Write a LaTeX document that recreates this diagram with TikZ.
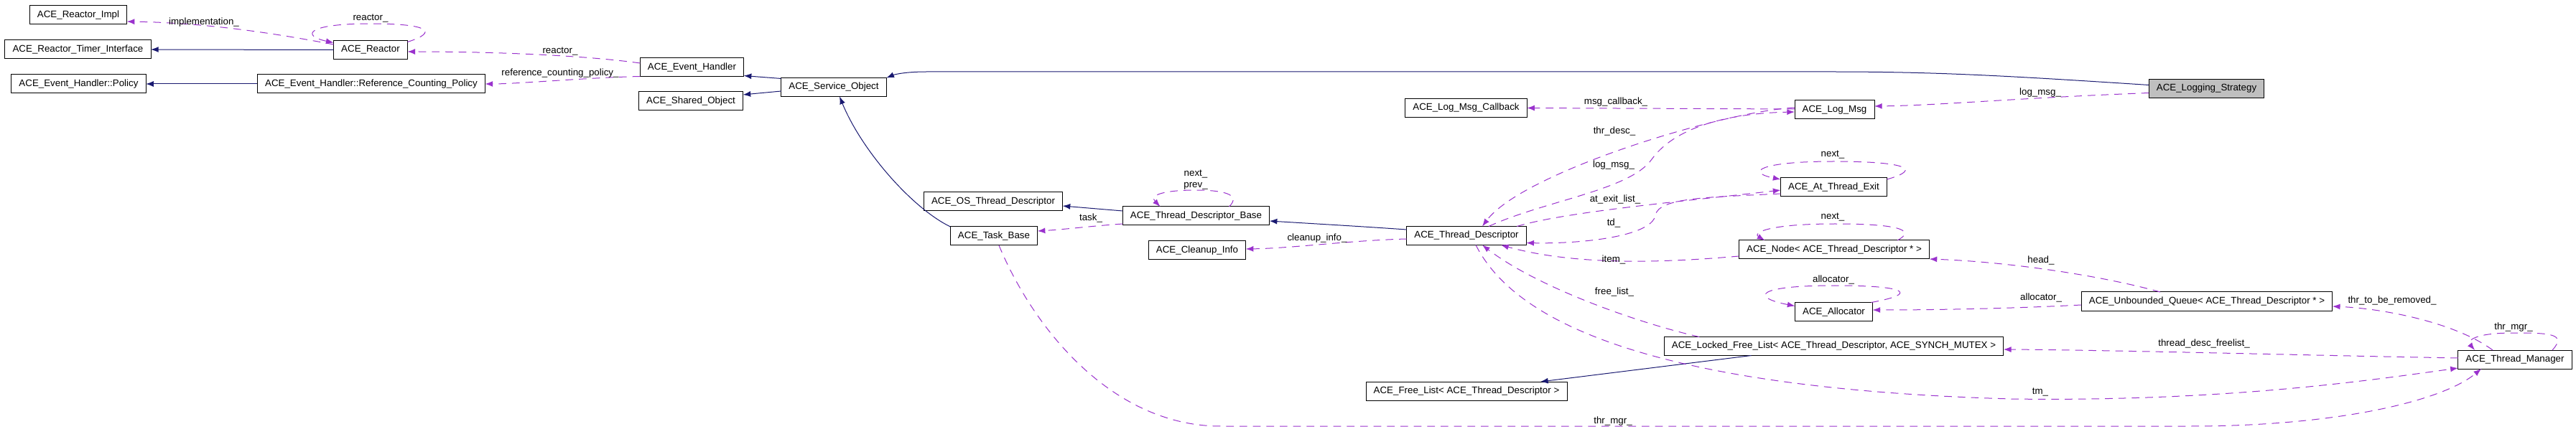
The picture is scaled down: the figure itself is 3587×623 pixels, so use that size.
\documentclass[tikz,border=0pt]{standalone}
\usepackage{fontspec}
\setmainfont{Liberation Sans}
\usetikzlibrary{positioning,calc,arrows.meta}

\definecolor{inhcol}{RGB}{25,25,112}
\definecolor{usecol}{RGB}{154,50,205}

\begin{document}
\begin{tikzpicture}[x=0.75pt,y=-0.75pt,
        every node/.style={font=\fontsize{10}{12}\selectfont},
        classbox/.style={draw,rectangle,fill=white,minimum height=19.5pt,inner xsep=8pt,outer sep=0pt,line width=0.75pt},
        inh/.style={draw=inhcol,line width=0.75pt,-{Latex[length=8pt,width=6pt]}},
        usage/.style={draw=usecol,line width=0.75pt,dash pattern=on 8pt off 6pt,-{Latex[length=8pt,width=6pt]}},
        lbl/.style={inner sep=1pt}]
   \useasboundingbox (0,0) rectangle (3587,623);
   % classes
   \node[classbox] (Impl) at (109,21) {ACE\_Reactor\_Impl};
   \node[classbox] (Timer) at (108.5,69) {ACE\_Reactor\_Timer\_Interface};
   \node[classbox] (Policy) at (109.5,117) {ACE\_Event\_Handler::Policy};
   \node[classbox] (Reactor) at (516,69.5) {ACE\_Reactor};
   \node[classbox] (RCP) at (517,117) {ACE\_Event\_Handler::Reference\_Counting\_Policy};
   \node[classbox] (EH) at (963.5,93.5) {ACE\_Event\_Handler};
   \node[classbox] (ShO) at (962,141) {ACE\_Shared\_Object};
   \node[classbox] (SO) at (1161,121.5) {ACE\_Service\_Object};
   \node[classbox,fill={rgb,255:red,191;green,191;blue,191}] (LS) at (3072.5,123.5) {ACE\_Logging\_Strategy};
   \node[classbox] (CB) at (2041.5,150.5) {ACE\_Log\_Msg\_Callback};
   \node[classbox] (LM) at (2554.5,153) {ACE\_Log\_Msg};
   \node[classbox] (OSTD) at (1383,281) {ACE\_OS\_Thread\_Descriptor};
   \node[classbox] (TDB) at (1665.5,301) {ACE\_Thread\_Descriptor\_Base};
   \node[classbox] (TB) at (1384,329) {ACE\_Task\_Base};
   \node[classbox] (CI) at (1667,349) {ACE\_Cleanup\_Info};
   \node[classbox] (TD) at (2042,328.5) {ACE\_Thread\_Descriptor};
   \node[classbox] (ATE) at (2553.5,261) {ACE\_At\_Thread\_Exit};
   \node[classbox] (Node) at (2554,348) {ACE\_Node< ACE\_Thread\_Descriptor * >};
   \node[classbox] (Alloc) at (2553.5,434.5) {ACE\_Allocator};
   \node[classbox] (UQ) at (3073,420) {ACE\_Unbounded\_Queue< ACE\_Thread\_Descriptor * >};
   \node[classbox] (LFL) at (2553.5,482.5) {ACE\_Locked\_Free\_List< ACE\_Thread\_Descriptor, ACE\_SYNCH\_MUTEX >};
   \node[classbox] (FL) at (2042,545) {ACE\_Free\_List< ACE\_Thread\_Descriptor >};
   \node[classbox] (TM) at (3502,501) {ACE\_Thread\_Manager};

   % inheritance
   \draw[inh] (Reactor.west) -- (Timer.east);
   \draw[inh] (RCP.west) -- (Policy.east);
   \draw[inh] ($(SO.north west)+(0,1)$) -- ($(EH.south east)+(0,-1)$);
   \draw[inh] ($(SO.west)+(0,5.5)$) -- ($(ShO.north east)+(0,4)$);
   \draw[inh] ($(LS.west)+(0,-5)$) .. controls (2800,106) and (2700,100) .. (2550,100)
              -- (1290,100) .. controls (1260,100) and (1245,104) .. (SO.north east);
   \draw[inh] (TB.north west) .. controls (1270,290) and (1200,210) .. ($(SO.south)+(8,0)$);
   \draw[inh] ($(TDB.west)+(0,-7)$) -- ($(OSTD.east)+(0,6)$);
   \draw[inh] ($(TD.west)+(0,-8.5)$) .. controls (1900,316) .. ($(TDB.east)+(0,7)$);
   \draw[inh] ($(LFL.south)+(-115,0)$) -- ($(FL.north east)+(-37,0)$);

   % members
   \draw[usage] ($(Reactor.west)+(0,-7.5)$) .. controls (400,50) and (300,32) .. ($(Impl.east)+(0,9)$);
   \node[lbl] (l1) at (284,31) {implementation\_};
   \draw[usage] ($(Reactor.north east)+(0,2)$) .. controls (610,45) and (600,33) .. (516,33)
                .. controls (425,33) and (420,50) .. ($(Reactor.north west)+(0,3)$);
   \node[lbl] (l2) at (516,26) {reactor\_};
   \draw[usage] ($(EH.west)+(0,-5.5)$) .. controls (820,78) and (700,72) .. ($(Reactor.east)+(0,2.5)$);
   \node[lbl] (l3) at (780,72) {reactor\_};
   \draw[usage] (EH.south west) .. controls (820,108) and (720,117) .. (RCP.east);
   \node[lbl] (l4) at (780,102) {reference\_counting\_policy\_};
   \draw[usage] ($(LS.west)+(0,6)$) .. controls (2800,137) and (2700,147) .. ($(LM.east)+(0,-5)$);
   \node[lbl] (l5) at (2841,129) {log\_msg\_};
   \draw[usage] ($(LM.west)+(0,-1)$) -- (CB.east);
   \node[lbl] (l6) at (2250,142) {msg\_callback\_};
   \draw[usage] ($(LM.west)+(0,-3)$) .. controls (2400,155) and (2120,240) .. ($(TD.north)+(22,0)$);
   \node[lbl] (l7) at (2248,183) {thr\_desc\_};
   \draw[usage] ($(TD.north)+(31,0)$) .. controls (2150,280) and (2270,265) .. (2300,222)
                .. controls (2330,180) and (2400,158) .. ($(LM.west)+(0,3)$);
   \node[lbl] (l8) at (2247,230) {log\_msg\_};
   \draw[usage] ($(TD.north east)+(-13,0)$) .. controls (2180,295) and (2350,280) .. ($(ATE.west)+(0,4)$);
   \node[lbl] (l9) at (2249,278) {at\_exit\_list\_};
   \draw[usage] ($(ATE.west)+(0,9)$) .. controls (2380,275) and (2310,275) .. (2305,300)
                .. controls (2300,330) and (2200,340) .. ($(TD.east)+(0,10)$);
   \node[lbl] (l10) at (2247,311) {td\_};
   \draw[usage] ($(ATE.north east)+(0,2)$) .. controls (2680,235) and (2650,225) .. (2553,225)
                .. controls (2450,225) and (2430,240) .. ($(ATE.north west)+(0,2)$);
   \node[lbl] (l11) at (2552,216) {next\_};
   \draw[usage] ($(TD.west)+(0,4.5)$) .. controls (1880,335) and (1800,346) .. ($(CI.east)+(0,-2)$);
   \node[lbl] (l12) at (1834,332) {cleanup\_info\_};
   \draw[usage] ($(TDB.west)+(0,11)$) .. controls (1520,315) and (1480,320) .. ($(TB.east)+(0,-7)$);
   \node[lbl] (l13) at (1519,304) {task\_};
   \draw[usage] ($(TDB.north)+(46,0)$) .. controls (1730,270) and (1700,265) .. (1665,265)
                .. controls (1620,265) and (1600,272) .. ($(TDB.north)+(-50,0)$);
   \node[lbl,align=center] (l14) at (1665,251) {next\_\\prev\_};
   \draw[usage] ($(Node.west)+(0,9)$) .. controls (2330,365) and (2200,372) .. ($(TD.south)+(48,0)$);
   \node[lbl] (l15) at (2247,362) {item\_};
   \draw[usage] ($(Node.north)+(88,0)$) .. controls (2670,320) and (2640,312) .. (2555,312)
                .. controls (2460,312) and (2440,325) .. ($(Node.north west)+(36,0)$);
   \node[lbl] (l16) at (2552,303) {next\_};
   \draw[usage] ($(UQ.north)+(-65,0)$) .. controls (2930,385) and (2800,365) .. (Node.south east);
   \node[lbl] (l17) at (2842,363) {head\_};
   \draw[usage] ($(UQ.west)+(0,5)$) .. controls (2800,430) and (2700,432) .. ($(Alloc.east)+(0,-2.5)$);
   \node[lbl] (l18) at (2842,415) {allocator\_};
   \draw[usage] ($(Alloc.north east)+(-2,0)$) .. controls (2670,410) and (2660,398) .. (2555,398)
                .. controls (2440,398) and (2440,415) .. ($(Alloc.north west)+(0,5)$);
   \node[lbl] (l19) at (2553,390) {allocator\_};
   \draw[usage] ($(TM.north)+(-31,0)$) .. controls (3420,450) and (3320,430) .. ($(UQ.east)+(0,7)$);
   \node[lbl] (l20) at (3331,419) {thr\_to\_be\_removed\_};
   \draw[usage] ($(TM.north)+(52,0)$) .. controls (3575,465) and (3550,464) .. (3500,464)
                .. controls (3445,464) and (3435,475) .. ($(TM.north)+(-56,0)$);
   \node[lbl] (l21) at (3500,456) {thr\_mgr\_};
   \draw[usage] ($(TM.west)+(0,-2)$) .. controls (3200,495) and (2950,488) .. ($(LFL.east)+(0,4.5)$);
   \node[lbl] (l22) at (3069,479) {thread\_desc\_freelist\_};
   \draw[usage] ($(TD.south)+(13,0)$) .. controls (2100,430) and (2250,540) .. (2800,556)
                .. controls (3100,560) and (3300,530) .. ($(TM.south west)+(0,-1)$);
   \node[lbl] (l23) at (2841,547) {tm\_};
   \draw[usage] ($(LFL.north west)+(49,0)$) .. controls (2280,450) and (2140,400) .. ($(TD.south)+(22,0)$);
   \node[lbl] (l24) at (2248,407) {free\_list\_};
   \draw[usage] ($(TB.south)+(7,0)$) .. controls (1440,460) and (1550,594) .. (1700,594)
                -- (3050,594) .. controls (3250,594) and (3400,560) .. ($(TM.south)+(-47,0)$);
   \node[lbl] (l25) at (2246,587) {thr\_mgr\_};
\end{tikzpicture}
\end{document}
